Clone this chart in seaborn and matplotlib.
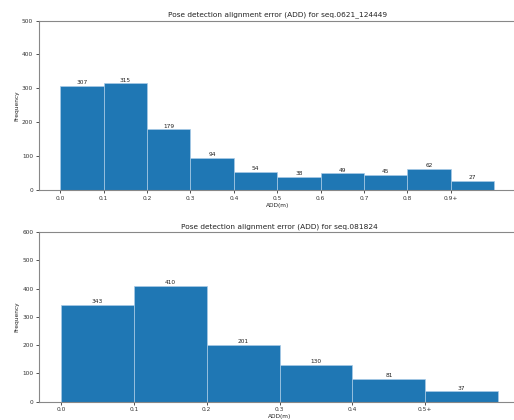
import numpy as np
import pandas as pd
import matplotlib
matplotlib.use("Agg")
import matplotlib.pyplot as plt
import seaborn as sns

# ADD error histograms (bin width 0.1 m, last bin collects everything above)
seq1_title = "Pose detection alignment error (ADD) for seq.0621_124449"
seq1_counts = [307, 315, 179, 94, 54, 38, 49, 45, 62, 27]
seq1_ticks = ["0.0", "0.1", "0.2", "0.3", "0.4", "0.5", "0.6", "0.7", "0.8", "0.9+"]

seq2_title = "Pose detection alignment error (ADD) for seq.081824"
seq2_counts = [343, 410, 201, 130, 81, 37]
seq2_ticks = ["0.0", "0.1", "0.2", "0.3", "0.4", "0.5+"]

bin_width = 0.1
BLUE = "#1f77b4"
FS = 4.2

fig = plt.figure(figsize=(5.14, 4.2), dpi=100)
ax1 = fig.add_axes([0.0753, 0.5476, 0.928, 0.4034])
ax2 = fig.add_axes([0.0765, 0.0436, 0.935, 0.4034])


def draw(ax, counts, ticks, title, ymax):
    n = len(counts)
    lefts = np.arange(n) * bin_width
    df = pd.DataFrame({"add": lefts + bin_width / 2, "count": counts})
    sns.histplot(data=df, x="add", weights="count", binwidth=bin_width,
                 binrange=(0, n * bin_width), ax=ax,
                 color=BLUE, alpha=1.0, edgecolor="#a9cbe6", linewidth=0.5)
    ax.bar_label(ax.containers[0], fontsize=FS, padding=0.5, color="#222222")
    ax.set_xlim(-0.05 * n * bin_width, 1.05 * n * bin_width)
    ax.set_ylim(0, ymax)
    ax.set_xticks(lefts)
    ax.set_xticklabels(ticks)
    ax.set_yticks(np.arange(0, ymax + 1, 100))
    ax.tick_params(labelsize=FS, length=2, width=0.6, pad=2, colors="#333333")
    ax.set_title(title, fontsize=5.3, pad=3, color="#222222")
    ax.set_xlabel("ADD(m)", fontsize=FS, labelpad=1.5, color="#222222")
    ax.set_ylabel("Frequency", fontsize=FS, labelpad=2, color="#222222")
    for s in ax.spines.values():
        s.set_linewidth(0.8)
        s.set_color("#888888")
    # the right edge of the frame falls just outside the canvas
    ax.spines["right"].set_visible(False)


draw(ax1, seq1_counts, seq1_ticks, seq1_title, 500)
draw(ax2, seq2_counts, seq2_ticks, seq2_title, 600)

fig.savefig("out.png", dpi=100)
